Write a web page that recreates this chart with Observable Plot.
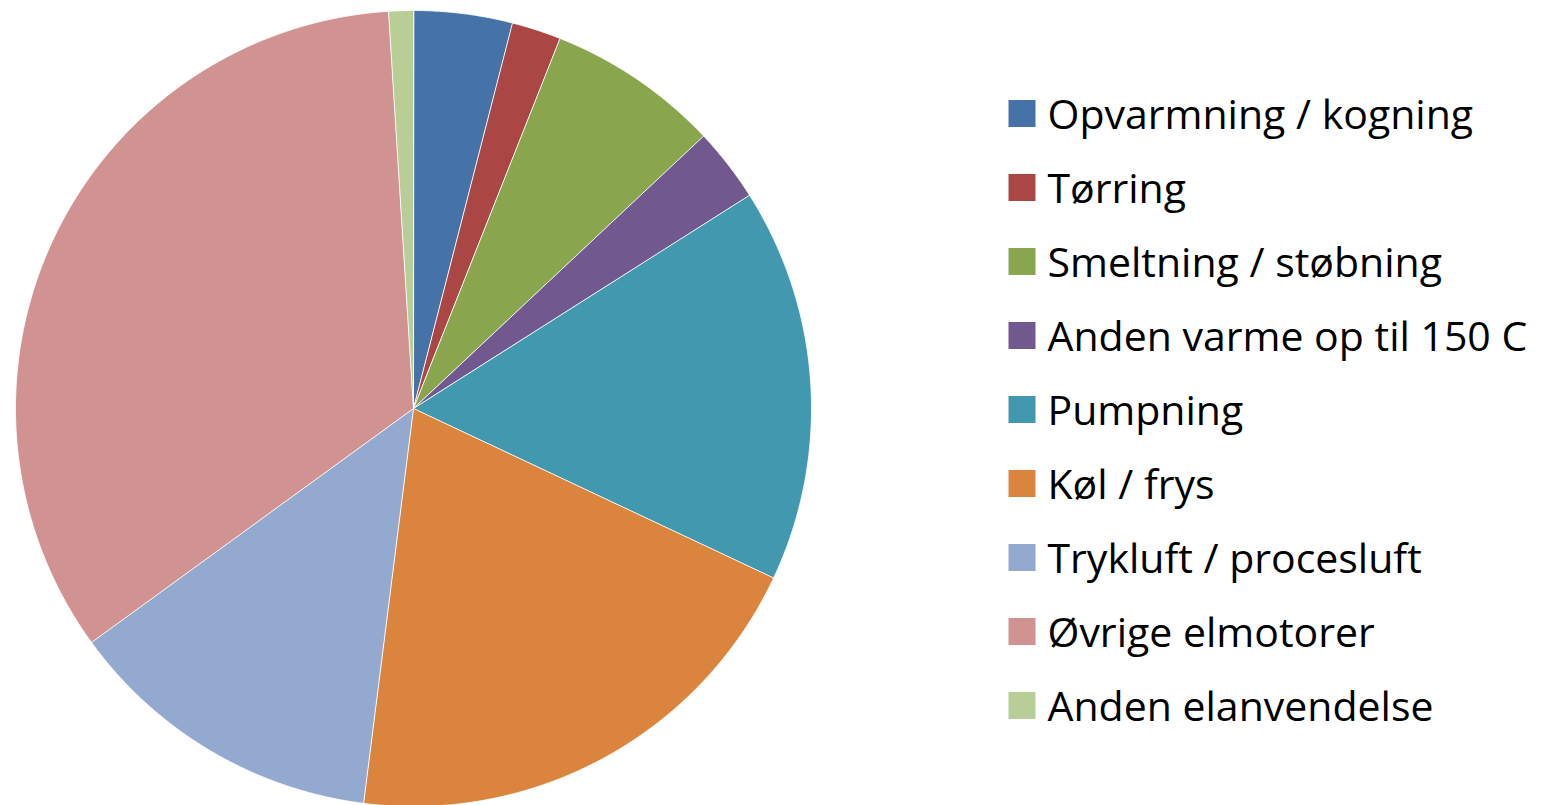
<!DOCTYPE html>
<html>
<head>
<meta charset="utf-8">
<script src="https://cdn.jsdelivr.net/npm/d3@7"></script>
<script src="https://cdn.jsdelivr.net/npm/@observablehq/plot@0.6"></script>
<style>
  html, body { margin: 0; padding: 0; background: #ffffff; }
  #wrap { display: flex; flex-direction: row; width: 1552px; height: 805px; overflow: hidden; }
  #wrap svg { display: block; }
</style>
</head>
<body>
<div id="wrap"></div>
<script>
// ---- Data ----
const categories = [
  "Opvarmning / kogning",
  "Tørring",
  "Smeltning / støbning",
  "Anden varme op til 150 C",
  "Pumpning",
  "Køl / frys",
  "Trykluft / procesluft",
  "Øvrige elmotorer",
  "Anden elanvendelse"
];
const shares = [4, 2, 7, 3, 16, 20, 13, 34, 1];
const colors = ["#4572A7", "#AA4643", "#89A54E", "#71588F", "#4198AF", "#DB843D", "#93A9CF", "#D19392", "#B9CD96"];

// ---- Build pie wedges as polygons (unit circle coordinates) ----
const arcs = d3.pie().sort(null).value(d => d.value)(
  categories.map((c, i) => ({category: c, value: shares[i]}))
);
const wedgePoints = [];
arcs.forEach(a => {
  const cat = a.data.category;
  wedgePoints.push({category: cat, x: 0, y: 0});
  const n = Math.max(2, Math.ceil((a.endAngle - a.startAngle) / (Math.PI / 720)));
  for (let k = 0; k <= n; k++) {
    const t = a.startAngle + (a.endAngle - a.startAngle) * k / n;
    wedgePoints.push({category: cat, x: Math.sin(t), y: Math.cos(t)});
  }
});

const colorScale = {domain: categories, range: colors};

const pie = Plot.plot({
  width: 830,
  height: 805,
  margin: 0,
  style: {background: "transparent"},
  x: {domain: [-1, 1], range: [15, 811], axis: null},
  y: {domain: [-1, 1], range: [806, 10], axis: null},
  color: colorScale,
  marks: [
    Plot.line(wedgePoints, {
      x: "x", y: "y", z: "category", fill: "category",
      curve: "linear-closed",
      stroke: "white", strokeWidth: 1, strokeOpacity: 0.85, strokeLinejoin: "round"
    })
  ]
});

const legend = Plot.plot({
  width: 722,
  height: 805,
  marginLeft: 191.5,
  marginRight: 0,
  marginTop: 0,
  marginBottom: 0,
  style: {background: "transparent", fontFamily: "'Open Sans', sans-serif"},
  y: {type: "point", domain: categories, range: [112.5, 705.8], padding: 0, axis: null},
  color: colorScale,
  marks: [
    Plot.dot(categories, {
      y: d => d, fill: d => d, symbol: "square", r: 27 / Math.sqrt(Math.PI),
      frameAnchor: "left", stroke: null
    }),
    Plot.text(categories, {
      y: d => d, text: d => d, frameAnchor: "left", textAnchor: "start",
      dx: 25.5, dy: 2, fontSize: 41, fill: "#000000"
    })
  ]
});

const wrap = document.getElementById("wrap");
wrap.appendChild(pie);
wrap.appendChild(legend);
</script>
</body>
</html>
